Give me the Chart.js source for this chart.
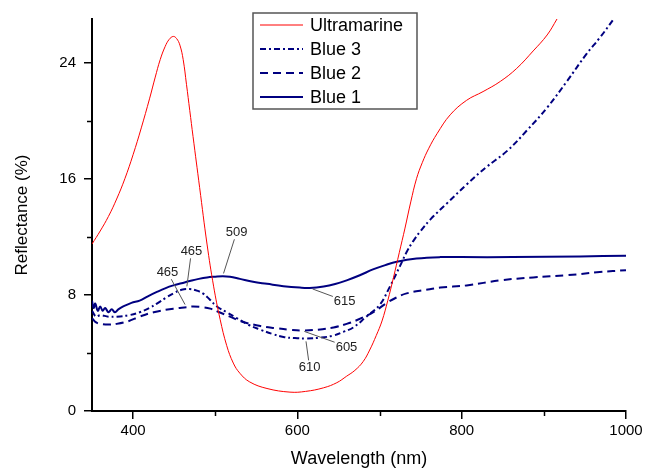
<!DOCTYPE html>
<html>
<head>
<meta charset="utf-8">
<script src="https://cdn.jsdelivr.net/npm/chart.js@4"></script>
<style>
  html, body { margin: 0; padding: 0; background: #fff; }
  canvas { display: block; }
</style>
</head>
<body>
<canvas id="reflChart" width="648" height="470"></canvas>
<script>
// Reflectance spectra, values (nm, %)
const ultramarineNm = [350, 360, 370, 380, 390, 400, 410, 420, 427, 433, 439, 444, 449, 453, 457, 461, 465, 469, 473, 481, 490, 498, 506, 514, 522, 530, 542, 563, 591, 610, 632, 648, 660, 670, 680, 688, 696, 703, 710, 717, 724, 731, 738, 745, 752, 760, 770, 786, 806, 826, 847, 867, 887, 904, 916, 922];
const ultramarineR = [11.5, 12.4, 13.4, 14.6, 16.0, 17.65, 19.5, 21.5, 23.0, 24.2, 25.1, 25.6, 25.8, 25.65, 25.2, 24.2, 22.5, 20.7, 18.9, 15.4, 11.5, 8.6, 6.3, 4.5, 3.3, 2.6, 2.0, 1.55, 1.3, 1.35, 1.6, 1.95, 2.4, 2.8, 3.4, 4.2, 5.2, 6.2, 7.6, 9.2, 10.9, 12.6, 14.4, 16.0, 17.1, 18.1, 19.1, 20.4, 21.4, 22.0, 22.7, 23.6, 24.8, 25.9, 27.0, 27.6];

const blue3Nm = [350, 355, 360, 370, 380, 395, 408, 420, 429, 440, 449, 459, 469, 477, 485, 493, 502, 514, 526, 540, 555, 570, 583, 597, 611, 628, 644, 656, 668, 684, 700, 712, 725, 733, 741, 750, 762, 782, 806, 830, 855, 879, 904, 928, 952, 968, 985, 990];
const blue3R = [6.9, 6.5, 6.6, 6.5, 6.5, 6.6, 6.8, 7.1, 7.4, 7.8, 8.1, 8.35, 8.4, 8.3, 8.1, 7.7, 7.2, 6.8, 6.4, 5.95, 5.6, 5.3, 5.1, 5.02, 5.0, 5.05, 5.2, 5.45, 5.75, 6.5, 7.3, 8.5, 10.0, 10.95, 11.7, 12.4, 13.2, 14.3, 15.6, 16.8, 17.9, 19.3, 20.9, 22.7, 24.6, 25.7, 27.0, 27.4];

const blue2Nm = [350, 355, 360, 370, 380, 395, 408, 425, 449, 465, 473, 485, 494, 505, 518, 530, 555, 575, 591, 605, 625, 644, 660, 672, 692, 709, 720, 733, 757, 774, 806, 847, 887, 928, 968, 1000];
const blue2R = [6.4, 6.1, 6.0, 5.95, 6.0, 6.2, 6.5, 6.8, 7.05, 7.15, 7.2, 7.15, 7.05, 6.8, 6.5, 6.2, 5.85, 5.7, 5.6, 5.55, 5.6, 5.75, 6.0, 6.25, 6.8, 7.45, 7.8, 8.1, 8.35, 8.5, 8.65, 9.0, 9.2, 9.35, 9.57, 9.7];

const blue1Nm = [350, 352, 354, 357, 360, 363, 366, 370, 374, 378, 382, 388, 398, 408, 418, 429, 439, 449, 459, 469, 480, 490, 500, 509, 518, 530, 546, 563, 583, 603, 615, 632, 646, 660, 676, 692, 707, 721, 745, 774, 800, 862, 944, 1000];
const blue1R = [7.6, 7.1, 7.4, 6.9, 7.2, 6.9, 7.1, 6.8, 7.0, 6.8, 7.0, 7.2, 7.45, 7.6, 7.9, 8.2, 8.45, 8.65, 8.8, 8.95, 9.1, 9.2, 9.25, 9.28, 9.25, 9.1, 8.9, 8.76, 8.6, 8.5, 8.48, 8.58, 8.75, 9.0, 9.35, 9.75, 10.05, 10.28, 10.5, 10.6, 10.6, 10.6, 10.65, 10.7];

const seriesNames = ['Ultramarine', 'Blue 3', 'Blue 2', 'Blue 1'];

const xMinorTicks = [500, 700, 900];
const yMinorTicks = [4, 12, 20];

// peak/valley labels: text, wavelength, dataset index
const peakText = ['465', '465', '509', '615', '605', '610'];
const peakNm = [465, 465, 509, 615, 605, 610];
const peakSeries = [1, 2, 3, 3, 2, 1];

// where each label sits relative to its point (px)
const labelPlacement = [
    { dx: 5, dy: -38 },
    { dx: -19, dy: -35 },
    { dx: 14, dy: -44 },
    { dx: 35, dy: 13 },
    { dx: 45, dy: 16 },
    { dx: 4, dy: 29 }
];

const FONT = '"Liberation Sans", Arial, Helvetica, sans-serif';
const NAVY = '#000080';

function toPoints(xs, ys) {
    return xs.map((x, i) => ({ x: x, y: ys[i] }));
}

function valueAt(points, x) {
    for (let i = 1; i < points.length; i++) {
        if (points[i].x >= x) {
            const a = points[i - 1], b = points[i];
            return a.y + (b.y - a.y) * (x - a.x) / (b.x - a.x);
        }
    }
    return points[points.length - 1].y;
}

function line(ctx, x1, y1, x2, y2) {
    ctx.beginPath();
    ctx.moveTo(x1, y1);
    ctx.lineTo(x2, y2);
    ctx.stroke();
}

// minor ticks, peak labels and the boxed legend
const overlayPlugin = {
    id: 'overlay',
    afterDraw(chart) {
        const { ctx, chartArea } = chart;
        const xs = chart.scales.x, ys = chart.scales.y;
        ctx.save();

        ctx.strokeStyle = '#000';
        ctx.lineWidth = 1.5;
        xMinorTicks.forEach(v => {
            const px = Math.round(xs.getPixelForValue(v)) + 0.5;
            line(ctx, px, chartArea.bottom, px, chartArea.bottom + 5);
        });
        yMinorTicks.forEach(v => {
            const py = Math.round(ys.getPixelForValue(v)) + 0.5;
            line(ctx, chartArea.left - 5, py, chartArea.left, py);
        });

        // labels with leader lines
        ctx.font = '13px ' + FONT;
        ctx.textAlign = 'center';
        ctx.textBaseline = 'middle';
        peakText.forEach((txt, i) => {
            const pts = chart.data.datasets[peakSeries[i]].data;
            const px = xs.getPixelForValue(peakNm[i]);
            const py = ys.getPixelForValue(valueAt(pts, peakNm[i]));
            const cx = px + labelPlacement[i].dx;
            const cy = py + labelPlacement[i].dy;
            const hw = ctx.measureText(txt).width / 2 + 1;
            const hh = 7;
            const ddx = px - cx, ddy = py - cy;
            const t = Math.min(hw / Math.abs(ddx || 1e-6), hh / Math.abs(ddy || 1e-6));
            const len = Math.hypot(ddx, ddy);
            const gap = 3 / len;
            ctx.strokeStyle = '#555';
            ctx.lineWidth = 1;
            line(ctx, cx + ddx * t, cy + ddy * t, px - ddx * gap, py - ddy * gap);
            ctx.fillStyle = '#222';
            ctx.fillText(txt, cx, cy + 0.5);
        });

        // legend box
        const lx = chartArea.left + 161, ly = chartArea.top - 6;
        ctx.fillStyle = '#fff';
        ctx.fillRect(lx, ly, 164, 96);
        ctx.strokeStyle = '#555';
        ctx.lineWidth = 1.5;
        ctx.strokeRect(lx, ly, 164, 96);
        ctx.font = '18px ' + FONT;
        ctx.textAlign = 'left';
        chart.data.datasets.forEach((ds, i) => {
            const ry = ly + 12 + i * 24;
            ctx.strokeStyle = ds.borderColor;
            ctx.lineWidth = ds.borderWidth;
            ctx.setLineDash(ds.borderDash || []);
            line(ctx, lx + 7, ry, lx + 50, ry);
            ctx.setLineDash([]);
            ctx.fillStyle = '#000';
            ctx.fillText(ds.label, lx + 57, ry + 1);
        });

        ctx.restore();
    }
};

Chart.defaults.font.family = FONT;
Chart.defaults.color = '#000';

const ctx = document.getElementById('reflChart').getContext('2d');
new Chart(ctx, {
    type: 'line',
    data: {
        datasets: [
            {
                label: seriesNames[0],
                data: toPoints(ultramarineNm, ultramarineR),
                borderColor: '#ff0000',
                borderWidth: 1
            },
            {
                label: seriesNames[1],
                data: toPoints(blue3Nm, blue3R),
                borderColor: NAVY,
                borderWidth: 2,
                borderDash: [6, 3, 2, 3]
            },
            {
                label: seriesNames[2],
                data: toPoints(blue2Nm, blue2R),
                borderColor: NAVY,
                borderWidth: 2,
                borderDash: [8, 5]
            },
            {
                label: seriesNames[3],
                data: toPoints(blue1Nm, blue1R),
                borderColor: NAVY,
                borderWidth: 2
            }
        ]
    },
    options: {
        responsive: false,
        animation: false,
        devicePixelRatio: 1,
        layout: { padding: { top: 19, right: 22, left: 0, bottom: 0 } },
        elements: {
            point: { radius: 0 },
            line: { tension: 0.4, fill: false }
        },
        plugins: {
            legend: { display: false },
            tooltip: { enabled: false }
        },
        scales: {
            x: {
                type: 'linear',
                min: 350,
                max: 1000,
                afterFit: scale => { scale.height = 59; },
                ticks: { stepSize: 200, includeBounds: false, font: { size: 15 }, padding: 3, maxRotation: 0,
                    callback: v => String(v) },
                grid: { drawOnChartArea: false, tickLength: 8, tickColor: '#000', lineWidth: 1.5 },
                border: { display: true, color: '#000', width: 2 },
                title: { display: true, text: 'Wavelength (nm)', font: { size: 18 }, padding: { top: 0, bottom: 0 } }
            },
            y: {
                min: 0,
                max: 27,
                afterFit: scale => { scale.width = 92; },
                ticks: { stepSize: 8, includeBounds: false, font: { size: 15 }, padding: 8 },
                grid: { drawOnChartArea: false, tickLength: 8, tickColor: '#000', lineWidth: 1.5 },
                border: { display: true, color: '#000', width: 2 },
                title: { display: true, text: 'Reflectance (%)', font: { size: 17 }, padding: { top: 12, bottom: 0 } }
            }
        }
    },
    plugins: [overlayPlugin]
});
</script>
</body>
</html>
